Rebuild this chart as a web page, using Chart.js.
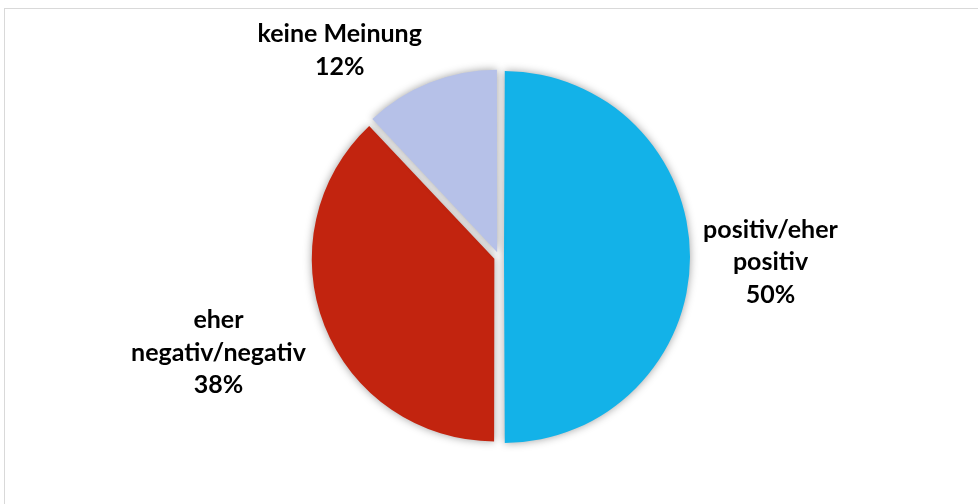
<!DOCTYPE html>
<html>
<head>
<meta charset="utf-8">
<script src="https://cdn.jsdelivr.net/npm/chart.js@4"></script>
<style>
  body { margin: 0; background: #fff; }
  .wrap { position: relative; width: 978px; height: 504px; overflow: hidden; }
  .frame { position: absolute; left: 4px; top: 8px; width: 990px; height: 510px; border: 1px solid #d9d9d9; }
  canvas { position: absolute; left: 0; top: 0; }
</style>
</head>
<body>
<div class="wrap">
  <div class="frame"></div>
  <canvas id="grafico" width="978" height="504"></canvas>
</div>
<script>
// ======= Dados =======
const categorias = ['positiv/eher positiv', 'eher negativ/negativ', 'keine Meinung'];
const valores = [50, 38, 12];
const rotulos = [['positiv/eher', 'positiv'], ['eher', 'negativ/negativ'], ['keine Meinung']];
const cores = ['#13b2e8', '#c2240f', '#b6c1e8'];

// posição dos rótulos relativa ao centro (em raios)
const posRotulos = [[1.50, 0.03], [-1.55, 0.53], [-0.88, -1.14]];

// ======= Sombra das fatias =======
const sombra = {
  id: 'sombra',
  beforeDatasetsDraw(chart) {
    const ctx = chart.ctx;
    ctx.save();
    ctx.shadowColor = 'rgba(0,0,0,0.38)';
    ctx.shadowBlur = 9;
  },
  afterDatasetsDraw(chart) {
    chart.ctx.restore();
  }
};

// ======= Rótulos =======
const rotulosPlugin = {
  id: 'rotulos',
  afterDraw(chart) {
    const ctx = chart.ctx;
    const meta = chart.getDatasetMeta(0);
    const arc0 = meta.data[0];
    const cx = arc0.x, cy = arc0.y, r = arc0.outerRadius;
    ctx.save();
    ctx.font = 'bold 25px Lato';
    ctx.fillStyle = '#000';
    ctx.textAlign = 'center';
    ctx.textBaseline = 'middle';
    const lh = 32.5;
    valores.forEach((v, i) => {
      const linhas = rotulos[i].concat([v + '%']);
      const x = cx + posRotulos[i][0] * r;
      const y = cy + posRotulos[i][1] * r;
      const y0 = y - (linhas.length - 1) * lh / 2;
      linhas.forEach((t, k) => ctx.fillText(t, x, y0 + k * lh));
    });
    ctx.restore();
  }
};

new Chart(document.getElementById('grafico'), {
  type: 'pie',
  data: {
    labels: categorias,
    datasets: [{ data: valores, backgroundColor: cores, borderWidth: 0, offset: 20, hoverOffset: 0 }]
  },
  options: {
    responsive: false,
    animation: false,
    radius: 181,
    layout: { padding: { left: 20, right: 0, top: 10, bottom: 0 } },
    plugins: { legend: { display: false }, tooltip: { enabled: false } }
  },
  plugins: [sombra, rotulosPlugin]
});
</script>
</body>
</html>
